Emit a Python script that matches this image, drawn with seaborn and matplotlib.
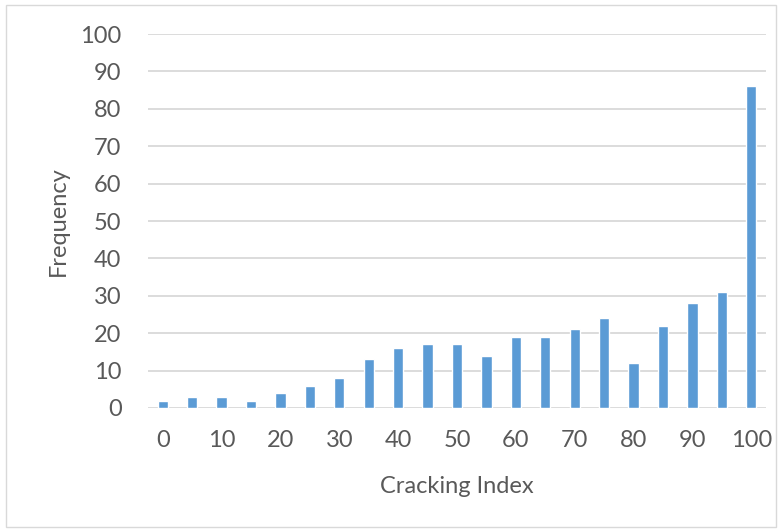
import matplotlib
matplotlib.use("Agg")
import matplotlib.pyplot as plt
import seaborn as sns
import pandas as pd
from matplotlib.patches import Rectangle

categories = list(range(0, 101, 5))
frequency = [2, 3, 3, 2, 4, 6, 8, 13, 16, 17, 17, 14, 19, 19, 21, 24, 12, 22, 28, 31, 86]
y_ticks = list(range(0, 101, 10))
x_tick_labels = [str(v) for v in range(0, 101, 10)]

sns.set_theme(style="white")
plt.rcParams['font.family'] = ['Lato', 'DejaVu Sans']

df = pd.DataFrame({"Cracking Index": [str(c) for c in categories], "Frequency": frequency})

fig = plt.figure(figsize=(7.81, 5.29), dpi=100)
ax = fig.add_axes([148/781, 1-408/529, (766-148)/781, (408-34)/529])

sns.barplot(data=df, x="Cracking Index", y="Frequency", color="#5B9BD5",
            width=0.35, saturation=1, ax=ax, zorder=3)

ax.set_ylim(0, 100)
ax.set_yticks(y_ticks)
ax.set_xticks(range(0, len(categories), 2))
ax.set_xticklabels(x_tick_labels)
ax.set_xlim(-0.5, len(categories) - 0.5)
ax.grid(axis="y", color="#D9D9D9", linewidth=1.3, zorder=0)
for s in ax.spines.values():
    s.set_visible(False)
ax.tick_params(axis="both", length=0, labelsize=17, colors="#595959")
ax.tick_params(axis="y", pad=19)
ax.tick_params(axis="x", pad=16)
ax.set_xlabel("Cracking Index", fontsize=17, color="#595959", labelpad=18)
ax.set_ylabel("Frequency", fontsize=17, color="#595959", labelpad=8)

fig.patches.append(Rectangle((6/781, 2/529), 770/781, 522/529, transform=fig.transFigure,
                             fill=False, edgecolor="#D9D9D9", linewidth=1))

fig.savefig("out.png", dpi=100)
